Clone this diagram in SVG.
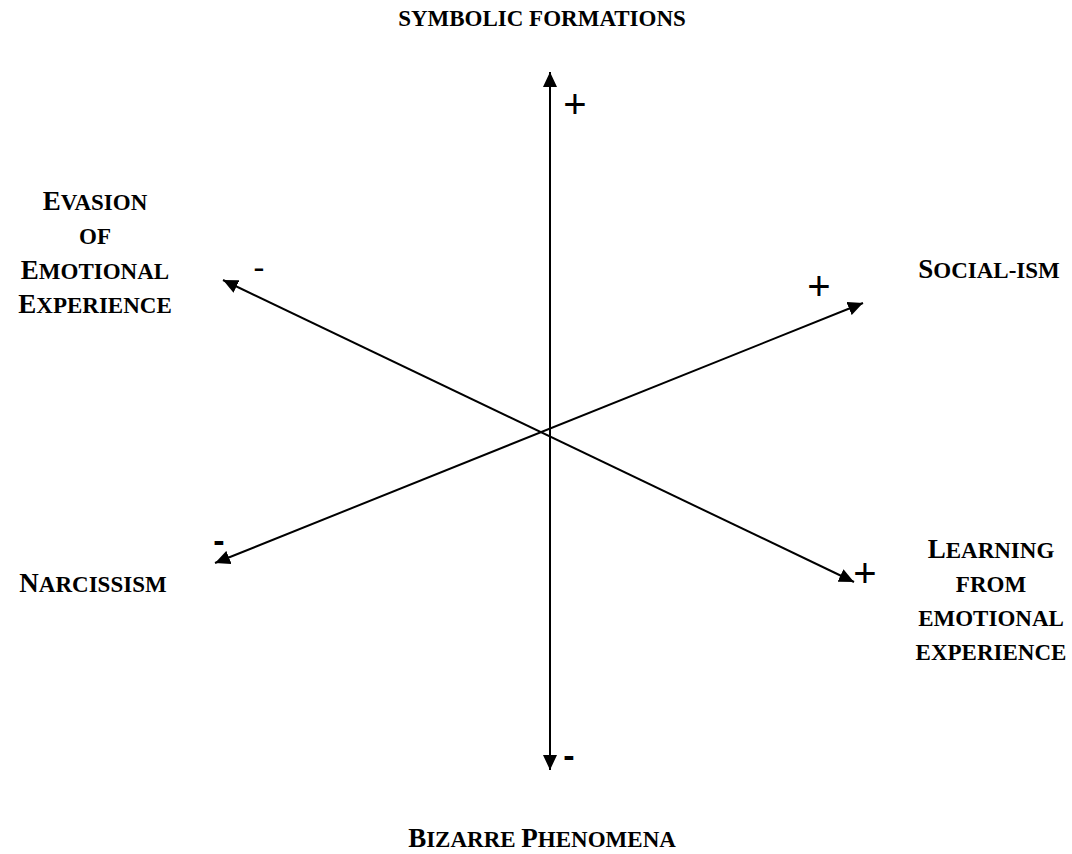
<svg xmlns="http://www.w3.org/2000/svg" width="1072" height="854" viewBox="0 0 1072 854">
<style>
.lbl{font-family:"Liberation Serif","Times New Roman",serif;font-weight:bold;fill:#000;text-anchor:middle}
.b{font-size:27px}
.s{font-size:23px}
.sign{font-family:"Liberation Sans",Arial,sans-serif;fill:#000;font-size:34px;text-anchor:middle}
.plus{font-size:40px}
.ax{stroke:#000;stroke-width:2;fill:none;marker-start:url(#ah);marker-end:url(#ah)}
</style>
<defs>
<marker id="ah" markerUnits="userSpaceOnUse" markerWidth="16" markerHeight="14" refX="15" refY="7" orient="auto-start-reverse">
<path d="M0,0 L15,7 L0,14 z" fill="#000"/>
</marker>
</defs>
<rect width="1072" height="854" fill="#fff"/>
<g id="connectors">
<line class="ax" x1="550" y1="770" x2="550" y2="72"/>
<line class="ax" x1="223" y1="280" x2="854" y2="582"/>
<line class="ax" x1="215" y1="563" x2="863" y2="303"/>
</g>
<g id="signs">
<text class="sign plus" x="575" y="118">+</text>
<text class="sign plus" x="819" y="300">+</text>
<text class="sign plus" x="865" y="587">+</text>
<text class="sign" x="259" y="279">-</text>
<text class="sign" x="219" y="552" style="font-weight:bold">-</text>
<text class="sign" x="569" y="767" style="font-weight:bold">-</text>
</g>
<g id="node-symbolic">
<text class="lbl" x="542" y="26"><tspan class="s">SYMBOLIC FORMATIONS</tspan></text>
</g>
<g id="node-evasion">
<text class="lbl" x="95" y="210"><tspan class="b">E</tspan><tspan class="s">VASION</tspan></text>
<text class="lbl" x="95" y="244"><tspan class="s">OF</tspan></text>
<text class="lbl" x="95" y="279"><tspan class="b">E</tspan><tspan class="s">MOTIONAL</tspan></text>
<text class="lbl" x="95" y="313"><tspan class="b">E</tspan><tspan class="s">XPERIENCE</tspan></text>
</g>
<g id="node-socialism">
<text class="lbl" x="989" y="278"><tspan class="b">S</tspan><tspan class="s">OCIAL-ISM</tspan></text>
</g>
<g id="node-narcissism">
<text class="lbl" x="93" y="592"><tspan class="b">N</tspan><tspan class="s">ARCISSISM</tspan></text>
</g>
<g id="node-learning">
<text class="lbl" x="991" y="558"><tspan class="b">L</tspan><tspan class="s">EARNING</tspan></text>
<text class="lbl" x="991" y="592"><tspan class="s">FROM</tspan></text>
<text class="lbl" x="991" y="626"><tspan class="s">EMOTIONAL</tspan></text>
<text class="lbl" x="991" y="660"><tspan class="s">EXPERIENCE</tspan></text>
</g>
<g id="node-bizarre">
<text class="lbl" x="542" y="847"><tspan class="b">B</tspan><tspan class="s">IZARRE </tspan><tspan class="b">P</tspan><tspan class="s">HENOMENA</tspan></text>
</g>
</svg>
